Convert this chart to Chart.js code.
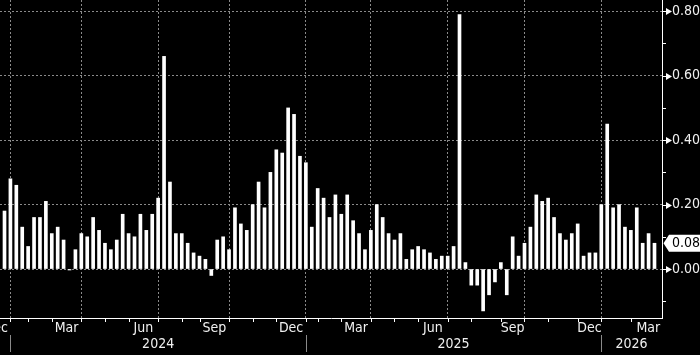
<!DOCTYPE html>
<html><head><meta charset="utf-8">
<script src="https://cdn.jsdelivr.net/npm/chart.js@4.4.1/dist/chart.umd.min.js"></script>
<style>html,body{margin:0;padding:0;background:#000;overflow:hidden}#wrap{width:700px;height:355px}</style>
</head><body><div id="wrap"><canvas id="c" width="700" height="355"></canvas></div>
<script>
// Weekly values, Dec 2023 – Mar 2026
const values = [
  0.18,0.28,0.26,0.13,0.07,0.16,0.16,0.21,0.11,0.13,
  0.09,-0.003,0.06,0.11,0.10,0.16,0.12,0.08,0.06,0.09,
  0.17,0.11,0.10,0.17,0.12,0.17,0.22,0.66,0.27,0.11,
  0.11,0.08,0.05,0.04,0.03,-0.02,0.09,0.10,0.06,0.19,
  0.14,0.12,0.20,0.27,0.19,0.30,0.37,0.36,0.50,0.48,
  0.35,0.33,0.13,0.25,0.22,0.16,0.23,0.17,0.23,0.15,
  0.11,0.06,0.12,0.20,0.16,0.11,0.09,0.11,0.03,0.06,
  0.07,0.06,0.05,0.03,0.04,0.04,0.07,0.79,0.02,-0.05,
  -0.05,-0.13,-0.08,-0.04,0.02,-0.08,0.10,0.04,0.08,0.13,
  0.23,0.21,0.22,0.16,0.11,0.09,0.11,0.14,0.04,0.05,
  0.05,0.20,0.45,0.19,0.20,0.13,0.12,0.19,0.08,0.11,
  0.08
];
const yTicks = [0, 0.2, 0.4, 0.6, 0.8];
const yMinorTicks = [-0.1, 0.1, 0.3, 0.5, 0.7];
const quarterGrid = [1, 13, 26, 38, 51, 62, 75, 88, 101];
const monthTicks = [1,4,8,13,17,21,26,30,33,38,42,46,51,53,57,62,66,70,75,79,84,88,92,97,101,106];
const monthLabels = ['Dec','Mar','Jun','Sep','Dec','Mar','Jun','Sep','Dec','Mar'];
const monthLabelPos = [-1.5, 10.5, 23.5, 35.5, 48.5, 59.5, 72.5, 86, 99, 108.95];
const yearLabels = ['2024','2025','2026'];
const yearLabelPos = [26, 76, 106.1];
const yearSeparators = [1, 51, 101];

const FONT_FAMILY = '"Liberation Sans Narrow","DejaVu Sans Condensed","Arial Narrow",sans-serif';
const FONT = '14px ' + FONT_FAMILY;
const TEXT = '#f0f0f0';
const GRID = '#8a8a8a';

const overlay = {
  id: 'overlay',
  afterDraw(chart) {
    const {ctx, chartArea, scales: {x, y}} = chart;
    const b = chartArea.bottom, r = chartArea.right;
    ctx.save();
    ctx.strokeStyle = '#fff';
    ctx.fillStyle = '#fff';
    ctx.lineWidth = 1;
    // month tick marks
    monthTicks.forEach(v => {
      const px = Math.round(x.getPixelForValue(v)) + 0.5;
      ctx.beginPath(); ctx.moveTo(px, b); ctx.lineTo(px, b + 4); ctx.stroke();
    });
    // y minor ticks
    yMinorTicks.forEach(v => {
      const py = Math.round(y.getPixelForValue(v)) + 0.5;
      ctx.beginPath(); ctx.moveTo(r, py); ctx.lineTo(r + 4, py); ctx.stroke();
    });
    // y major ticks with arrow heads
    yTicks.forEach(v => {
      const py = Math.round(y.getPixelForValue(v)) + 0.5;
      ctx.beginPath(); ctx.moveTo(r, py); ctx.lineTo(r + 5, py); ctx.stroke();
      ctx.beginPath(); ctx.moveTo(r + 4, py - 3.5); ctx.lineTo(r + 10, py); ctx.lineTo(r + 4, py + 3.5); ctx.closePath(); ctx.fill();
    });
    // labels
    ctx.font = FONT;
    ctx.fillStyle = TEXT;
    ctx.textAlign = 'center';
    ctx.textBaseline = 'middle';
    monthLabels.forEach((t, i) => ctx.fillText(t, x.getPixelForValue(monthLabelPos[i]), b + 10));
    yearLabels.forEach((t, i) => ctx.fillText(t, x.getPixelForValue(yearLabelPos[i]), b + 26));
    ctx.strokeStyle = GRID;
    yearSeparators.forEach(v => {
      const px = Math.round(x.getPixelForValue(v)) + 0.5;
      ctx.beginPath(); ctx.moveTo(px, b + 17); ctx.lineTo(px, b + 34); ctx.stroke();
    });
    // last value badge
    const last = values[values.length - 1];
    const py = y.getPixelForValue(last);
    ctx.fillStyle = '#fff';
    ctx.beginPath();
    ctx.moveTo(r + 1.5, py);
    ctx.lineTo(r + 7, py - 8.5);
    ctx.lineTo(chart.width, py - 8.5);
    ctx.lineTo(chart.width, py + 8.5);
    ctx.lineTo(r + 7, py + 8.5);
    ctx.closePath();
    ctx.fill();
    ctx.fillStyle = '#000';
    ctx.textAlign = 'left';
    ctx.fillText(last.toFixed(2), r + 10, py + 0.5);
    ctx.restore();
  }
};

new Chart(document.getElementById('c'), {
  type: 'bar',
  data: {
    datasets: [{
      data: values.map((v, i) => ({x: i, y: v})),
      backgroundColor: '#ffffff',
      borderWidth: 0,
      barThickness: 3
    }]
  },
  options: {
    responsive: false,
    animation: false,
    devicePixelRatio: 1,
    layout: {padding: 0},
    plugins: {legend: {display: false}, tooltip: {enabled: false}},
    scales: {
      x: {
        type: 'linear',
        offset: false,
        min: -0.762,
        max: 111.27,
        afterBuildTicks: s => { s.ticks = quarterGrid.map(v => ({value: v})); },
        afterFit: s => { s.height = 37; s.paddingLeft = 0; s.paddingRight = 0; },
        ticks: {display: false},
        grid: {color: GRID, lineWidth: 1, drawTicks: false, offset: false},
        border: {color: '#ffffff', width: 1, dash: [2, 2]}
      },
      y: {
        position: 'right',
        min: -0.152,
        max: 0.835,
        afterBuildTicks: s => { s.ticks = yTicks.map(v => ({value: v})); },
        afterFit: s => { s.width = 38; s.paddingTop = 0; s.paddingBottom = 0; },
        ticks: {
          color: TEXT,
          padding: 10,
          font: {family: FONT_FAMILY, size: 14},
          callback: v => Number(v).toFixed(2)
        },
        grid: {color: GRID, lineWidth: 1, drawTicks: false},
        border: {color: '#ffffff', width: 1, dash: [2, 2]}
      }
    }
  },
  plugins: [overlay]
});
</script>
</body></html>
